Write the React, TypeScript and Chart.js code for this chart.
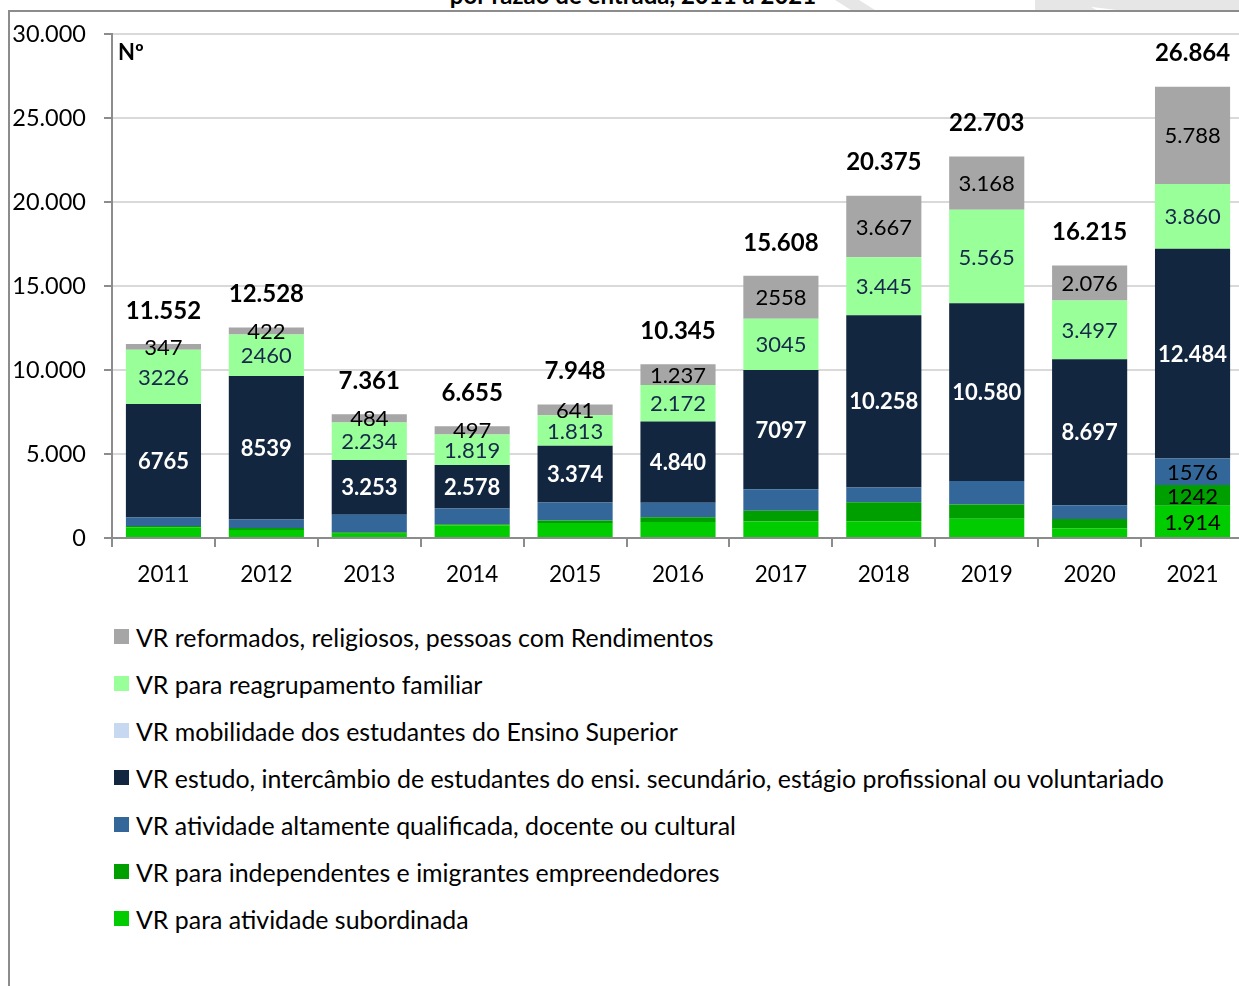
import React, { useEffect, useRef } from "react";
import { Chart, registerables } from "chart.js";

Chart.register(...registerables);

const years = ["2011", "2012", "2013", "2014", "2015", "2016", "2017", "2018", "2019", "2020", "2021"];

const subordinada = [620, 470, 250, 740, 890, 945, 975, 1000, 1150, 587, 1914];
const independentes = [90, 120, 90, 85, 150, 295, 650, 1127, 848, 547, 1242];
const qualificada = [504, 517, 1050, 936, 1080, 856, 1283, 878, 1392, 811, 1576];
const estudo = [6765, 8539, 3253, 2578, 3374, 4840, 7097, 10258, 10580, 8697, 12484];
const mobilidade = [0, 0, 0, 0, 0, 0, 0, 0, 0, 0, 0];
const reagrupamento = [3226, 2460, 2234, 1819, 1813, 2172, 3045, 3445, 5565, 3497, 3860];
const reformados = [347, 422, 484, 497, 641, 1237, 2558, 3667, 3168, 2076, 5788];

const subordinadaLabels = ["", "", "", "", "", "", "", "", "", "", "1.914"];
const independentesLabels = ["", "", "", "", "", "", "", "", "", "", "1242"];
const qualificadaLabels = ["", "", "", "", "", "", "", "", "", "", "1576"];
const estudoLabels = ["6765", "8539", "3.253", "2.578", "3.374", "4.840", "7097", "10.258", "10.580", "8.697", "12.484"];
const reagrupamentoLabels = ["3226", "2460", "2.234", "1.819", "1.813", "2.172", "3045", "3.445", "5.565", "3.497", "3.860"];
const reformadosLabels = ["347", "422", "484", "497", "641", "1.237", "2558", "3.667", "3.168", "2.076", "5.788"];
const totalLabels = ["11.552", "12.528", "7.361", "6.655", "7.948", "10.345", "15.608", "20.375", "22.703", "16.215", "26.864"];

const yTickLabels = ["0", "5.000", "10.000", "15.000", "20.000", "25.000", "30.000"];

const FONT = "Lato, 'Open Sans', sans-serif";

const series = [
  { label: "VR para atividade subordinada", data: subordinada, color: "#00cc00", labels: subordinadaLabels, labelColor: "#000000", bold: false },
  { label: "VR para independentes e imigrantes empreendedores", data: independentes, color: "#009f00", labels: independentesLabels, labelColor: "#000000", bold: false },
  { label: "VR atividade altamente qualificada, docente ou cultural", data: qualificada, color: "#336699", labels: qualificadaLabels, labelColor: "#000000", bold: false },
  { label: "VR estudo, intercâmbio de estudantes do ensi. secundário, estágio profissional ou voluntariado", data: estudo, color: "#12263f", labels: estudoLabels, labelColor: "#ffffff", bold: true },
  { label: "VR mobilidade dos estudantes do Ensino Superior", data: mobilidade, color: "#c6d9f1", labels: null, labelColor: "#000000", bold: false },
  { label: "VR para reagrupamento familiar", data: reagrupamento, color: "#99ff99", labels: reagrupamentoLabels, labelColor: "#17294a", bold: false },
  { label: "VR reformados, religiosos, pessoas com Rendimentos", data: reformados, color: "#a6a6a6", labels: reformadosLabels, labelColor: "#000000", bold: false },
];

const labelPlugin = {
  id: "segLabels",
  afterDatasetsDraw(chart: any) {
    const ctx = chart.ctx;
    ctx.save();
    ctx.textAlign = "center";
    ctx.textBaseline = "middle";
    chart.data.datasets.forEach((ds: any, i: number) => {
      const meta = chart.getDatasetMeta(i);
      const labels = ds.segLabels;
      if (!labels) return;
      ctx.font = `${ds.segBold ? "bold " : ""}22px ${FONT}`;
      ctx.fillStyle = ds.segColor;
      meta.data.forEach((bar: any, j: number) => {
        const t = labels[j];
        if (!t) return;
        const p = bar.getProps(["x", "y", "base"], true);
        ctx.fillText(t, p.x, (p.y + p.base) / 2 + 1);
      });
    });
    const last = chart.getDatasetMeta(chart.data.datasets.length - 1);
    ctx.font = `bold 24px ${FONT}`;
    ctx.fillStyle = "#000000";
    last.data.forEach((bar: any, j: number) => {
      const p = bar.getProps(["x", "y"], true);
      ctx.fillText(totalLabels[j], p.x, p.y - 33);
    });
    ctx.font = `bold 22px ${FONT}`;
    ctx.textAlign = "left";
    ctx.fillText("Nº", chart.chartArea.left + 6, chart.chartArea.top + 19);
    ctx.restore();
  },
};

export default function App() {
  const ref = useRef<HTMLCanvasElement>(null);

  useEffect(() => {
    if (!ref.current) return;
    const chart = new Chart(ref.current, {
      type: "bar",
      data: {
        labels: years,
        datasets: series.map((s) => ({
          label: s.label,
          data: s.data,
          backgroundColor: s.color,
          borderWidth: 0,
          categoryPercentage: 1,
          barPercentage: 0.73,
          segLabels: s.labels,
          segColor: s.labelColor,
          segBold: s.bold,
        })) as any,
      },
      options: {
        animation: false,
        responsive: false,
        maintainAspectRatio: false,
        layout: { padding: { top: 22, left: 0, right: 0, bottom: 0 } },
        plugins: { legend: { display: false }, tooltip: { enabled: false } },
        scales: {
          x: {
            stacked: true,
            grid: { offset: true, drawOnChartArea: false, color: "#8c8c8c", lineWidth: 2, tickLength: 9 },
            border: { color: "#8c8c8c", width: 2 },
            ticks: { color: "#000", font: { family: FONT, size: 22.5 }, padding: 14 },
            afterFit: (s: any) => { s.height = 54; s.paddingLeft = 0; s.paddingRight = 0; },
          },
          y: {
            stacked: true,
            min: 0,
            max: 30000,
            ticks: {
              stepSize: 5000,
              color: "#000",
              font: { family: FONT, size: 23.5 },
              padding: 18,
              callback: (v: any) => yTickLabels[Math.round(Number(v) / 5000)],
            },
            grid: { color: "#d9d9d9", lineWidth: 2, tickColor: "#8c8c8c", tickLength: 8 },
            border: { color: "#8c8c8c", width: 2 },
            afterFit: (s: any) => { s.width = 102; s.paddingTop = 0; s.paddingBottom = 0; },
          },
        },
      },
      plugins: [labelPlugin],
    });
    return () => chart.destroy();
  }, []);

  const legendItems = [...series].reverse();

  return (
    <div style={{ position: "absolute", left: 0, top: 0, width: 1239, height: 986, overflow: "hidden", background: "#fff" }}>
      <div style={{ position: "absolute", left: 835, top: 0, width: 40, height: 10, background: "#e6e6e6", clipPath: "polygon(0 0, 60% 0, 100% 100%, 40% 100%)" }} />
      <div style={{ position: "absolute", left: 1035, top: 0, width: 204, height: 10, background: "#e6e6e6", clipPath: "polygon(0 0, 22% 0, 30% 100%, 0 100%, 0 0, 35% 0, 100% 0, 100% 100%, 40% 100%)" }} />
      <div style={{ position: "absolute", left: 0, top: -17, width: 1266, textAlign: "center", fontFamily: FONT, fontWeight: "bold", fontSize: 24, lineHeight: "24px", color: "#000" }}>
        por razão de entrada, 2011 a 2021
      </div>
      <div style={{ position: "absolute", left: 8, top: 10, width: 1300, height: 1000, borderLeft: "2px solid #8c8c8c", borderTop: "2px solid #8c8c8c", background: "#fff" }} />
      <canvas ref={ref} width={1234} height={580} style={{ position: "absolute", left: 10, top: 12, width: 1234, height: 580 }} />
      <div style={{ position: "absolute", left: 114, top: 613 }}>
        {legendItems.map((s) => (
          <div key={s.label} style={{ display: "flex", alignItems: "center", height: 47, fontFamily: FONT, fontSize: 24.9, color: "#000", whiteSpace: "nowrap" }}>
            <span style={{ display: "inline-block", width: 15, height: 15, background: s.color, marginRight: 7 }} />
            <span>{s.label}</span>
          </div>
        ))}
      </div>
    </div>
  );
}
